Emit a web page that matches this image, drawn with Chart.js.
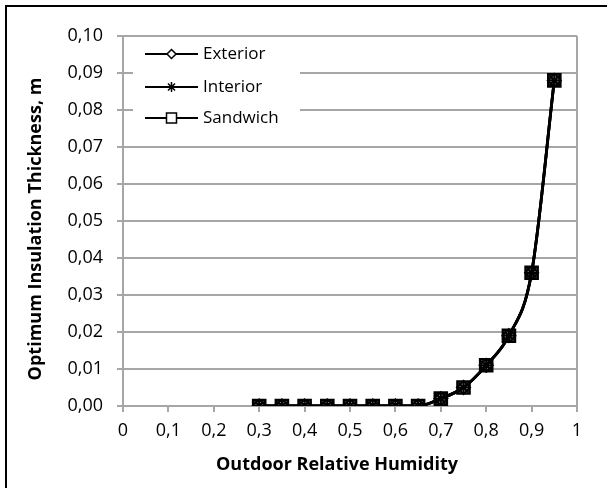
<!DOCTYPE html>
<html>
<head>
<meta charset="utf-8">
<script src="https://cdn.jsdelivr.net/npm/chart.js@4.4.1/dist/chart.umd.min.js"></script>
<style>
  html, body { margin: 0; padding: 0; background: #fff; }
  #wrap { width: 607px; height: 488px; position: relative; }
  canvas { display: block; }
</style>
</head>
<body>
<div id="wrap"><canvas id="c" width="607" height="488"></canvas></div>
<script>
// ---- data ----
const humidity = [0.30, 0.35, 0.40, 0.45, 0.50, 0.55, 0.60, 0.65, 0.70, 0.75, 0.80, 0.85, 0.90, 0.95];
const exterior = [0, 0, 0, 0, 0, 0, 0, 0, 0.002, 0.005, 0.011, 0.019, 0.036, 0.088];
const interior = [0, 0, 0, 0, 0, 0, 0, 0, 0.002, 0.005, 0.011, 0.019, 0.036, 0.088];
const sandwich = [0, 0, 0, 0, 0, 0, 0, 0, 0.002, 0.005, 0.011, 0.019, 0.036, 0.088];
const seriesNames = ['Exterior', 'Interior', 'Sandwich'];
const xTickLabels = ['0', '0,1', '0,2', '0,3', '0,4', '0,5', '0,6', '0,7', '0,8', '0,9', '1'];
const yTickLabels = ['0,00', '0,01', '0,02', '0,03', '0,04', '0,05', '0,06', '0,07', '0,08', '0,09', '0,10'];
const xTitle = 'Outdoor Relative Humidity';
const yTitle = 'Optimum Insulation Thickness, m';

const FONT = "'Open Sans', sans-serif";
const GRID = '#a6a6a6';

function pts(arr) { return humidity.map((x, i) => ({ x: x, y: arr[i] })); }

function legendMarker(ctx, style, x, y) {
  ctx.save();
  ctx.strokeStyle = '#000';
  ctx.fillStyle = '#fff';
  ctx.lineWidth = 1.5;
  ctx.beginPath();
  if (style === 'rectRot') {
    const r = 4.5;
    ctx.moveTo(x, y - r); ctx.lineTo(x + r, y); ctx.lineTo(x, y + r); ctx.lineTo(x - r, y); ctx.closePath();
    ctx.fill(); ctx.stroke();
  } else if (style === 'rect') {
    const h = 5;
    ctx.rect(x - h, y - h, 2 * h, 2 * h);
    ctx.fill(); ctx.stroke();
  } else if (style === 'star') {
    const r = 5;
    ctx.moveTo(x, y - r); ctx.lineTo(x, y + r);
    ctx.moveTo(x - r, y); ctx.lineTo(x + r, y);
    const d = r * Math.SQRT1_2;
    ctx.moveTo(x - d, y - d); ctx.lineTo(x + d, y + d);
    ctx.moveTo(x - d, y + d); ctx.lineTo(x + d, y - d);
    ctx.stroke();
  }
  ctx.restore();
}

const decorPlugin = {
  id: 'decor',
  afterDraw(chart) {
    const ctx = chart.ctx;
    ctx.save();
    // outer frame (top and left visible in the reference)
    ctx.strokeStyle = '#000';
    ctx.lineWidth = 2;
    ctx.beginPath();
    ctx.moveTo(6, 488); ctx.lineTo(6, 6); ctx.lineTo(607, 6);
    ctx.stroke();

    // legend box inside plot area
    ctx.fillStyle = '#fff';
    ctx.fillRect(133, 38, 167, 95);
    const rowsY = [54, 87, 118];
    chart.data.datasets.forEach((ds, i) => {
      const y = rowsY[i];
      ctx.strokeStyle = '#000';
      ctx.lineWidth = 2;
      ctx.beginPath();
      ctx.moveTo(145, y); ctx.lineTo(198, y);
      ctx.stroke();
      legendMarker(ctx, ds.pointStyle, 171.5, y);
      ctx.fillStyle = '#000';
      ctx.font = '17px ' + FONT;
      ctx.textAlign = 'left';
      ctx.textBaseline = 'middle';
      ctx.fillText(ds.label, 203, y);
    });

    // axis titles
    ctx.fillStyle = '#000';
    ctx.font = 'bold 18px ' + FONT;
    ctx.textAlign = 'center';
    ctx.textBaseline = 'middle';
    ctx.fillText(xTitle, 337, 465);
    ctx.translate(36, 229);
    ctx.rotate(-Math.PI / 2);
    ctx.fillText(yTitle, 0, 0);
    ctx.restore();
  }
};

const common = { borderColor: '#000', borderWidth: 2.8, cubicInterpolationMode: 'monotone', pointBorderColor: '#000' };

new Chart(document.getElementById('c'), {
  type: 'line',
  data: {
    datasets: [
      Object.assign({}, common, { label: seriesNames[0], data: pts(exterior), order: 2, pointStyle: 'rectRot', pointRadius: 6.5, pointBackgroundColor: '#fff', pointBorderWidth: 2 }),
      Object.assign({}, common, { label: seriesNames[1], data: pts(interior), order: 1, pointStyle: 'star', pointRadius: 6.5, pointBackgroundColor: '#000', pointBorderWidth: 2.2 }),
      Object.assign({}, common, { label: seriesNames[2], data: pts(sandwich), order: 3, pointStyle: 'rect', pointRadius: 8.5, pointBackgroundColor: '#fff', pointBorderWidth: 2.6 })
    ]
  },
  options: {
    responsive: false,
    animation: false,
    devicePixelRatio: 1,
    layout: { padding: { left: 0, top: 36, right: 30, bottom: 0 } },
    plugins: { legend: { display: false }, tooltip: { enabled: false } },
    scales: {
      x: {
        type: 'linear', min: 0, max: 1,
        afterFit(s) { s.height = 82; },
        grid: {
          drawOnChartArea: true,
          color: c => (c.tick && Math.abs(c.tick.value - 1) < 1e-9) ? GRID : 'rgba(0,0,0,0)',
          tickColor: GRID, tickLength: 6, lineWidth: 2
        },
        border: { display: true, color: GRID, width: 2 },
        ticks: {
          stepSize: 0.1, color: '#000', padding: 8,
          font: { family: FONT, size: 18 },
          callback: (v, i) => xTickLabels[i]
        }
      },
      y: {
        min: 0, max: 0.1,
        afterFit(s) { s.width = 123; },
        grid: { color: GRID, tickColor: GRID, tickLength: 6, lineWidth: 2 },
        border: { display: true, color: GRID, width: 2 },
        ticks: {
          stepSize: 0.01, color: '#000', padding: 14,
          font: { family: FONT, size: 18 },
          callback: (v, i) => yTickLabels[i]
        }
      }
    }
  },
  plugins: [decorPlugin]
});
</script>
</body>
</html>
